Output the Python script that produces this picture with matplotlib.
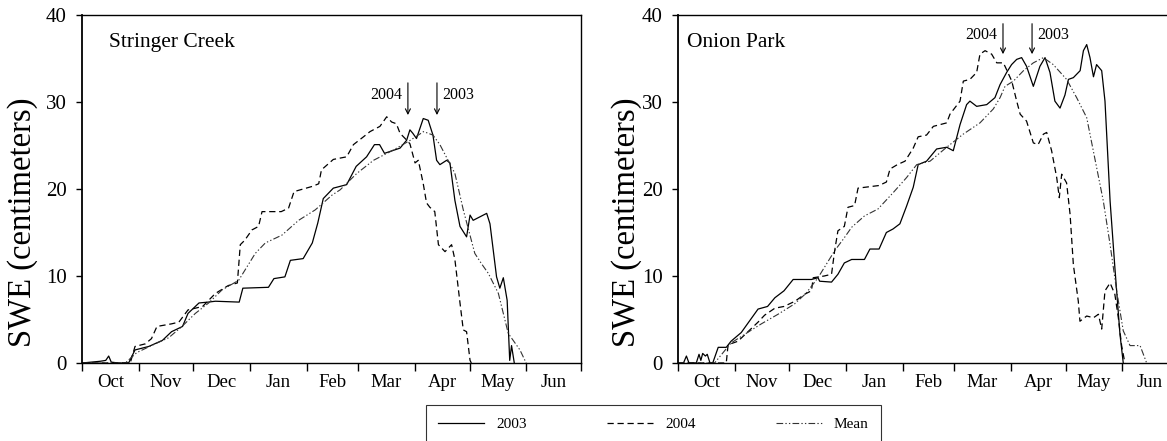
import matplotlib
matplotlib.use("Agg")
import matplotlib.pyplot as plt
from matplotlib.ticker import FixedLocator, NullFormatter, FixedFormatter

plt.rcParams['font.family'] = ['Liberation Serif', 'DejaVu Serif']

# ---- data: days since Oct 1, SWE in cm ----
month_starts = [0, 31, 61, 92, 123, 151, 182, 212, 243, 273]
month_labels = ['Oct', 'Nov', 'Dec', 'Jan', 'Feb', 'Mar', 'Apr', 'May', 'Jun']

sc03_day = [0, 10, 13, 14.6, 16, 20, 25.5, 29, 36.5, 44, 49, 55, 58, 64, 69, 73, 86, 88, 102, 105,
            111, 114, 121, 126, 129, 132, 137.5, 144.8, 150, 155.7, 160, 162.8, 165.5, 174, 177.6,
            179.4, 181, 183, 186.7, 189.4, 192, 194, 195.8, 199.5, 201.3, 204, 206.8, 210.4, 212.3,
            214, 221.4, 223.2, 226.8, 228.6, 230.5, 232.6, 234, 235, 236.5]
sc03_swe = [0, 0.2, 0.3, 0.8, 0.1, 0, 0, 1.5, 1.9, 2.6, 3.6, 4.2, 5.7, 6.9, 7.0, 7.1, 7.0, 8.6, 8.7, 9.7,
            9.9, 11.8, 12.0, 13.8, 16.1, 18.9, 20.1, 20.5, 22.6, 23.7, 25.1, 25.1, 24.1, 24.7, 25.6,
            26.8, 26.4, 25.8, 28.1, 27.9, 26.2, 23.3, 22.8, 23.3, 23.0, 18.7, 15.7, 14.5, 17.0,
            16.4, 17.2, 16.0, 9.9, 8.6, 9.8, 7.2, 0.3, 2.0, 0]

sc04_day = [0, 26.4, 29, 34.6, 38, 41, 49, 53, 58, 66, 73, 80, 85, 86.6, 89, 93, 96.6, 98.5, 109,
            113, 116, 126, 129.5, 131, 137.5, 144.8, 148.5, 154, 157.6, 163, 166.7, 169.4, 172, 174,
            176.8, 179.4, 182.2, 184, 186.7, 188.5, 190.3, 193, 195, 198.6, 202.2, 204, 206.8,
            208.6, 210.4, 212.3, 213]
sc04_swe = [0, 0, 1.9, 2.2, 2.8, 4.2, 4.5, 4.7, 6.1, 6.5, 8.0, 8.9, 9.2, 13.6, 14.1, 15.3, 15.7, 17.4,
            17.4, 17.8, 19.7, 20.3, 20.6, 22.2, 23.4, 23.7, 25.1, 26.0, 26.6, 27.2, 28.3, 27.7, 27.5,
            26.4, 25.8, 25.2, 23.0, 23.3, 20.6, 18.4, 17.9, 17.4, 13.6, 12.8, 13.6, 11.9, 6.9, 3.8,
            3.6, 0.3, 0]

scm_day = [0, 23.7, 30, 40, 47.4, 54.7, 62, 69.3, 76.6, 85.7, 94.8, 100.3, 109.4, 118.5, 127.6,
           136.8, 141.2, 150.4, 159.5, 170.5, 179.6, 186.9, 192, 195.8, 204, 208.6, 214.9, 218.6,
           222.3, 227.8, 233.2, 239.6, 243]
scm_swe = [0, 0, 1.2, 2.2, 2.9, 4.2, 5.7, 6.9, 8.4, 9.5, 12.6, 13.8, 14.7, 16.4, 17.6, 19.3, 19.9,
           21.8, 23.3, 24.5, 25.6, 26.6, 26.2, 25.1, 21.8, 17.6, 12.6, 11.4, 10.3, 8.0, 3.4, 1.5, 0]

op03_day = [0, 3, 4.6, 6, 10, 11.5, 12.5, 13.5, 15, 16, 17.5, 19, 22, 26.4, 29, 34.6, 38, 43.8, 49,
            53, 58, 63, 73, 76.6, 77.5, 84, 87.5, 91, 95, 102, 105, 110, 114, 117.6, 121.4, 125,
            128.7, 131.4, 136, 141.5, 147, 150.6, 154.3, 157.9, 159.7, 163.4, 168.9, 173.4, 176.2,
            179.8, 182.5, 185.3, 188, 190.7, 194.4, 198, 200.8, 203.5, 206.2, 209, 211.7, 213.6,
            216.3, 220, 221.8, 223.6, 225.4, 227.3, 229, 231.8, 233.6, 236.4, 239, 241.8, 243.6]
op03_swe = [0, 0, 0.8, 0, 0, 1.0, 0.3, 1.1, 0.8, 1.0, 0, 0, 1.8, 1.8, 2.5, 3.5, 4.5, 6.2, 6.5,
            7.5, 8.3, 9.6, 9.6, 9.8, 9.4, 9.3, 10.2, 11.5, 11.9, 11.9, 13.1, 13.1, 15.0, 15.4, 16.0,
            18.0, 20.2, 22.8, 23.2, 24.6, 24.8, 24.4, 27.4, 29.7, 30.1, 29.5, 29.7, 30.5, 32.0,
            33.4, 34.3, 34.9, 35.1, 34.1, 31.8, 34.1, 35.1, 33.4, 30.1, 29.3, 30.8, 32.6,
            32.8, 33.6, 35.9, 36.6, 35.1, 32.9, 34.3, 33.6, 30.1, 18.6, 11.0, 3.3, 0]

op04_day = [0, 26.4, 27.4, 32.8, 38.3, 43.8, 47.4, 53, 58, 64, 69.3, 73, 74, 80, 84, 85.7, 87.5,
            91, 93, 96.6, 98.5, 110, 114, 116, 120, 124.2, 128.7, 131.4, 136, 139.7, 147, 148.8,
            154.3, 156.1, 159.7, 163.4, 165.2, 168, 171.6, 174.4, 178, 179.8, 182.6, 185.3, 187.2,
            190.7, 194.4, 197, 199.9, 201.7, 204.4, 207.2, 208.6, 209.9, 212.6, 214.5, 216.3, 219,
            219.9, 223.6, 227.3, 230, 231.8, 233.6, 236.4, 239, 240.9, 242.7, 244.5]
op04_swe = [0, 0, 2.1, 2.5, 3.6, 4.7, 5.5, 6.3, 6.5, 7.1, 7.9, 8.3, 9.8, 10.0, 10.2, 12.9, 15.2,
            15.7, 17.9, 18.1, 20.1, 20.4, 20.8, 22.3, 22.8, 23.2, 24.7, 26.0, 26.2, 27.2, 27.6, 28.6,
            30.1, 32.4, 32.6, 33.4, 35.5, 35.9, 35.5, 34.5, 34.5, 33.7, 32.4, 30.1, 28.6,
            27.8, 25.3, 25.1, 26.3, 26.5, 24.4, 21.3, 19.0, 21.7, 20.7, 17.1, 11.3, 7.1,
            4.8, 5.4, 5.2, 5.6, 3.9, 8.3, 9.2, 7.9, 5.2, 2.0, 0]

opm_day = [0, 20, 29, 36.5, 45.6, 54.7, 63.8, 70, 76.6, 85.7, 91, 95, 102, 109.4, 117.8, 125, 130.6,
           137.9, 147, 156, 165.2, 172.5, 176.2, 178.9, 183.5, 189, 194.4, 199.9, 205.3, 212.6,
           218.1, 223.6, 229, 232.7, 236.4, 240, 243.6, 247.3, 252.8, 256.4]
opm_swe = [0, 0, 2.3, 3.3, 4.5, 5.6, 6.8, 8.0, 9.8, 12.9, 14.4, 15.6, 16.9, 17.7, 19.6, 21.3, 22.8,
           23.2, 24.8, 26.3, 27.6, 29.2, 30.5, 31.8, 32.4, 33.6, 34.5, 35.1, 34.3, 32.6,
           30.5, 28.2, 22.5, 18.6, 13.6, 8.3, 3.7, 2.0, 2.0, 0]

panels = [
    dict(title='Stringer Creek', d03=(sc03_day, sc03_swe), d04=(sc04_day, sc04_swe),
         dm=(scm_day, scm_swe), arrows=((178.3, 'left', '2004'), (194.2, 'right', '2003')),
         arrow_y=(32.2, 28.5), title_x=0.054, ylab_x=-0.088),
    dict(title='Onion Park', d03=(op03_day, op03_swe), d04=(op04_day, op04_swe),
         dm=(opm_day, opm_swe), arrows=((177.8, 'left', '2004'), (193.7, 'right', '2003')),
         arrow_y=(39.0, 35.5), title_x=0.018, ylab_x=-0.072),
]

fig = plt.figure(figsize=(11.67, 4.41), dpi=100)
W, H = 1167.0, 441.0
axes_px = [(82, 15, 499, 348), (678, 15, 499, 348)]

mean_dashes = (6, 2, 1.2, 2, 1.2, 2)
handles = None
for p, (lx, ty, w, h) in zip(panels, axes_px):
    ax = fig.add_axes([lx / W, 1 - (ty + h) / H, w / W, h / H])
    l1, = ax.plot(*p['d03'], color='black', lw=0.9, solid_joinstyle='round', label='2003')
    l2, = ax.plot(*p['d04'], color='black', lw=0.9, dashes=(5, 3), label='2004')
    l3, = ax.plot(*p['dm'], color='#333333', lw=0.8, dashes=mean_dashes, label='Mean')
    if handles is None:
        handles = [l1, l2, l3]
    ax.set_xlim(month_starts[0], month_starts[-1])
    ax.set_ylim(0, 40)
    ax.set_yticks([0, 10, 20, 30, 40])
    ax.tick_params(axis='y', direction='out', length=4, width=1, pad=7, labelsize=15)
    ax.xaxis.set_major_locator(FixedLocator(month_starts))
    ax.xaxis.set_major_formatter(NullFormatter())
    mids = [(a + b) / 2 for a, b in zip(month_starts[:-1], month_starts[1:])]
    ax.xaxis.set_minor_locator(FixedLocator(mids))
    ax.xaxis.set_minor_formatter(FixedFormatter(month_labels))
    ax.tick_params(axis='x', which='major', direction='out', length=6, width=1)
    ax.tick_params(axis='x', which='minor', length=0, pad=8, labelsize=13.5)
    for s in ax.spines.values():
        s.set_linewidth(1.0)
    ax.spines['left'].set_linewidth(1.3)
    ax.set_ylabel('SWE (centimeters)', fontsize=23.5)
    ax.yaxis.set_label_coords(p['ylab_x'], 0.405)
    ax.text(p['title_x'], 0.92, p['title'], transform=ax.transAxes, fontsize=15.5,
            va='center', ha='left')
    ytop, ybot = p['arrow_y']
    for xd, side, lab in p['arrows']:
        ax.annotate('', xy=(xd, ybot), xytext=(xd, ytop),
                    arrowprops=dict(arrowstyle='->', lw=0.8, color='black', mutation_scale=9,
                                    shrinkA=0, shrinkB=0))
        if side == 'left':
            ax.text(xd - 3, (ytop + ybot) / 2 + 0.4, lab, ha='right', va='center', fontsize=11.5)
        else:
            ax.text(xd + 3, (ytop + ybot) / 2 + 0.4, lab, ha='left', va='center', fontsize=11.5)

leg = fig.legend(handles=handles, labels=['2003', '2004', 'Mean'], loc='upper left',
                 bbox_to_anchor=(426 / W, 0, 455 / W, 1 - 405 / H), mode='expand', ncol=3,
                 fontsize=11, handlelength=3.0, handletextpad=0.8, borderpad=0.8,
                 fancybox=False, frameon=True, borderaxespad=0)
leg.get_frame().set_edgecolor('black')
leg.get_frame().set_linewidth(0.8)

fig.savefig('out.png', dpi=100)
